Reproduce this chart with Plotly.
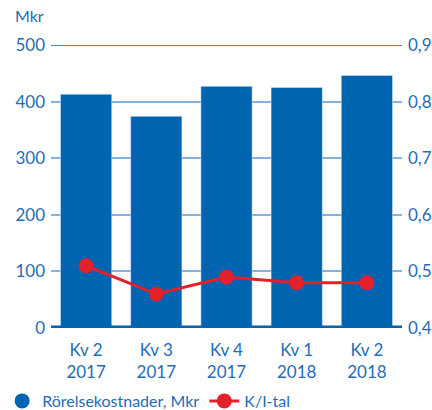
import plotly.graph_objects as go

categories = ["Kv 2<br>2017", "Kv 3<br>2017", "Kv 4<br>2017", "Kv 1<br>2018", "Kv 2<br>2018"]
costs = [413, 374, 427, 425, 446]
ki_ratio = [0.51, 0.46, 0.49, 0.48, 0.48]
left_ticks = [0, 100, 200, 300, 400, 500]
right_ticks = [0.4, 0.5, 0.6, 0.7, 0.8, 0.9]
right_labels = ["0,4", "0,5", "0,6", "0,7", "0,8", "0,9"]

BLUE = "#0064B0"
TEXT = "#1F6DB4"
GRID = "#86B2DC"
RED = "#E4202A"
FONT = "Lato"

fig = go.Figure()
fig.add_trace(go.Bar(x=categories, y=costs, marker_color=BLUE, showlegend=False,
                     name="Rörelsekostnader, Mkr"))
fig.add_trace(go.Scatter(x=[None], y=[None], mode="markers", name="Rörelsekostnader, Mkr",
                         marker=dict(color=BLUE, size=15, symbol="circle")))
fig.add_trace(go.Scatter(x=categories, y=ki_ratio, yaxis="y2", mode="lines+markers", name="K/I-tal",
                         line=dict(color=RED, width=3), marker=dict(color=RED, size=15)))

fig.update_layout(
    width=432, height=410,
    margin=dict(l=51, r=30, t=45, b=82),
    paper_bgcolor="white", plot_bgcolor="white",
    font=dict(family=FONT, size=16, color=TEXT),
    bargap=0.27,
    xaxis=dict(showgrid=False, showline=False, ticks="", automargin=False, ticklabelstandoff=10,
               tickfont=dict(size=17, color=TEXT)),
    yaxis=dict(range=[0, 500], tickvals=left_ticks, showgrid=True, gridcolor=GRID, gridwidth=1.5,
               zeroline=False, showline=False, ticks="", ticklabelstandoff=5, automargin=False,
               tickfont=dict(size=17, color=TEXT)),
    yaxis2=dict(range=[0.4, 0.9], tickvals=right_ticks, ticktext=right_labels, overlaying="y",
                side="right", showgrid=False, zeroline=False, showline=False, ticks="",
                ticklabelstandoff=5, automargin=False,
                tickfont=dict(size=17, color=TEXT)),
    legend=dict(orientation="h", xref="container", yref="container", x=0.005, xanchor="left",
                y=0.022, yanchor="middle",
                font=dict(size=16, color=TEXT), itemwidth=30, traceorder="normal"),
    showlegend=True,
)
fig.add_shape(type="line", xref="paper", yref="y", x0=0, x1=1, y0=500, y1=500,
              line=dict(color=BLUE, width=1.5), layer="below")
fig.add_shape(type="line", xref="paper", yref="y", x0=0, x1=1, y0=0, y1=0,
              line=dict(color=BLUE, width=5), layer="above")
fig.add_annotation(text="Mkr", xref="paper", yref="paper", x=-0.108, y=1.065, xanchor="left",
                   yanchor="bottom", showarrow=False, font=dict(size=16, color=TEXT))

fig.write_html("out.html", config={"displayModeBar": False},
               post_script="document.body.style.margin='0';document.body.style.overflow='hidden';")
